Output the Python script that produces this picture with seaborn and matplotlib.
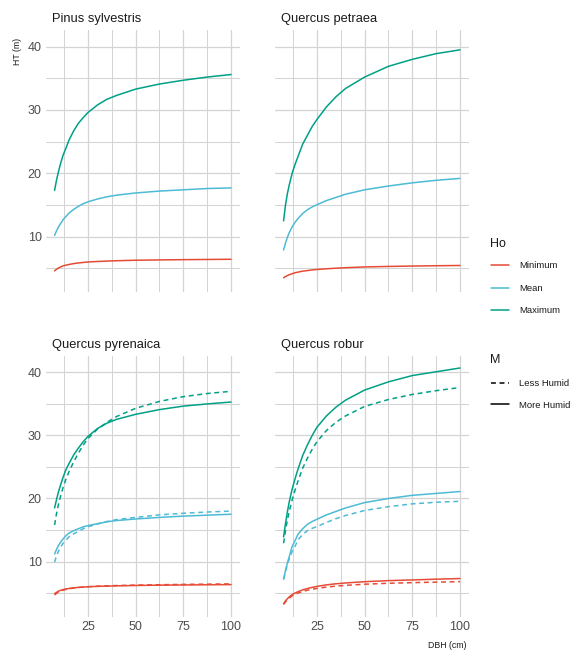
import numpy as np
import pandas as pd
import matplotlib
matplotlib.use("Agg")
import matplotlib.pyplot as plt
from matplotlib.lines import Line2D
import seaborn as sns

sns.set_theme(style="white")
plt.rcParams['font.family'] = ['Liberation Sans', 'DejaVu Sans']

# ---------------- data ----------------
species = ["Pinus sylvestris", "Quercus petraea", "Quercus pyrenaica", "Quercus robur"]
ho_levels = ["Minimum", "Mean", "Maximum"]
m_levels = ["Less Humid", "More Humid"]
dbh = [7.5, 8.5, 9.5, 10.5, 12, 13.5, 15, 17.5, 20, 22.5, 25, 30, 35, 40, 50, 62.5, 75, 87.5, 100]

# Pinus sylvestris (Less Humid coincides with More Humid)
ps_min_more = [4.6, 4.85, 5.05, 5.2, 5.4, 5.5, 5.6, 5.75, 5.85, 5.93, 6.0, 6.08, 6.15, 6.2, 6.28, 6.33, 6.37, 6.4, 6.43]
ps_mean_more = [10.2, 10.9, 11.5, 12.0, 12.7, 13.2, 13.7, 14.3, 14.8, 15.2, 15.5, 15.95, 16.3, 16.55, 16.9, 17.2, 17.4, 17.6, 17.7]
ps_max_more = [17.3, 18.9, 20.2, 21.4, 22.9, 24.0, 25.2, 26.7, 27.9, 28.8, 29.6, 30.8, 31.7, 32.3, 33.3, 34.1, 34.7, 35.2, 35.6]

# Quercus petraea
qp_min_more = [3.5, 3.7, 3.85, 4.0, 4.15, 4.3, 4.4, 4.55, 4.65, 4.75, 4.82, 4.93, 5.02, 5.1, 5.22, 5.3, 5.36, 5.41, 5.45]
qp_mean_more = [7.9, 9.0, 9.9, 10.65, 11.55, 12.25, 12.85, 13.65, 14.25, 14.7, 15.05, 15.7, 16.2, 16.7, 17.4, 18.0, 18.5, 18.9, 19.2]
qp_max_more = [12.5, 15.0, 16.8, 18.2, 20.0, 21.4, 22.6, 24.6, 26.0, 27.4, 28.5, 30.5, 32.1, 33.4, 35.2, 36.9, 38.0, 38.9, 39.5]

# Quercus pyrenaica
qy_min_more = [4.9, 5.1, 5.3, 5.42, 5.55, 5.65, 5.72, 5.82, 5.9, 5.95, 6.0, 6.06, 6.1, 6.14, 6.2, 6.25, 6.28, 6.31, 6.34]
qy_min_less = [4.7, 4.95, 5.15, 5.3, 5.47, 5.58, 5.67, 5.8, 5.88, 5.95, 6.0, 6.08, 6.14, 6.19, 6.26, 6.32, 6.37, 6.41, 6.45]
qy_mean_more = [11.2, 11.9, 12.5, 13.0, 13.6, 14.1, 14.5, 14.9, 15.2, 15.5, 15.7, 16.0, 16.3, 16.5, 16.75, 17.0, 17.2, 17.35, 17.5]
qy_mean_less = [9.9, 10.9, 11.6, 12.2, 12.9, 13.4, 13.9, 14.4, 14.8, 15.2, 15.5, 15.95, 16.35, 16.65, 17.0, 17.4, 17.65, 17.85, 18.0]
qy_max_more = [18.5, 19.8, 21.0, 22.0, 23.4, 24.6, 25.5, 26.9, 28.0, 29.0, 29.85, 31.1, 31.95, 32.55, 33.35, 34.1, 34.65, 35.0, 35.3]
qy_max_less = [15.8, 17.6, 19.0, 20.2, 21.8, 23.1, 24.2, 25.8, 27.2, 28.45, 29.5, 31.0, 32.1, 33.0, 34.3, 35.4, 36.15, 36.65, 37.0]

# Quercus robur
qr_min_more = [3.3, 3.75, 4.1, 4.4, 4.75, 5.0, 5.2, 5.5, 5.72, 5.9, 6.05, 6.3, 6.47, 6.6, 6.8, 6.97, 7.08, 7.2, 7.3]
qr_min_less = [3.2, 3.6, 3.95, 4.2, 4.55, 4.8, 4.98, 5.25, 5.45, 5.6, 5.73, 5.95, 6.1, 6.22, 6.4, 6.55, 6.65, 6.73, 6.8]
qr_mean_more = [7.2, 8.6, 9.8, 10.8, 12.4, 13.3, 14.3, 15.2, 15.9, 16.35, 16.7, 17.4, 17.95, 18.5, 19.35, 20.0, 20.5, 20.8, 21.1]
qr_mean_less = [7.2, 8.3, 9.6, 10.4, 11.6, 12.4, 13.4, 14.3, 14.9, 15.25, 15.55, 16.2, 16.8, 17.3, 18.1, 18.7, 19.15, 19.4, 19.55]
qr_max_more = [13.9, 16.0, 17.9, 19.5, 21.5, 23.1, 24.6, 26.8, 28.5, 30.0, 31.3, 33.1, 34.5, 35.6, 37.2, 38.5, 39.5, 40.1, 40.7]
qr_max_less = [12.9, 14.9, 16.6, 18.0, 19.8, 21.3, 22.7, 24.8, 26.4, 27.8, 29.0, 30.8, 32.1, 33.1, 34.6, 35.7, 36.5, 37.1, 37.6]

series = {
    ("Pinus sylvestris", "Minimum", "More Humid"): ps_min_more,
    ("Pinus sylvestris", "Mean", "More Humid"): ps_mean_more,
    ("Pinus sylvestris", "Maximum", "More Humid"): ps_max_more,
    ("Quercus petraea", "Minimum", "More Humid"): qp_min_more,
    ("Quercus petraea", "Mean", "More Humid"): qp_mean_more,
    ("Quercus petraea", "Maximum", "More Humid"): qp_max_more,
    ("Quercus pyrenaica", "Minimum", "More Humid"): qy_min_more,
    ("Quercus pyrenaica", "Minimum", "Less Humid"): qy_min_less,
    ("Quercus pyrenaica", "Mean", "More Humid"): qy_mean_more,
    ("Quercus pyrenaica", "Mean", "Less Humid"): qy_mean_less,
    ("Quercus pyrenaica", "Maximum", "More Humid"): qy_max_more,
    ("Quercus pyrenaica", "Maximum", "Less Humid"): qy_max_less,
    ("Quercus robur", "Minimum", "More Humid"): qr_min_more,
    ("Quercus robur", "Minimum", "Less Humid"): qr_min_less,
    ("Quercus robur", "Mean", "More Humid"): qr_mean_more,
    ("Quercus robur", "Mean", "Less Humid"): qr_mean_less,
    ("Quercus robur", "Maximum", "More Humid"): qr_max_more,
    ("Quercus robur", "Maximum", "Less Humid"): qr_max_less,
}

rows = []
for (sp, ho, m), vals in series.items():
    for x, y in zip(dbh, vals):
        rows.append({"Species": sp, "Ho": ho, "M": m, "DBH": x, "HT": y})
df = pd.DataFrame(rows)

x_ticks = [25, 50, 75, 100]
y_ticks = [10, 20, 30, 40]

palette = {"Minimum": "#E64B35", "Mean": "#4DBBD5", "Maximum": "#00A087"}
dash_map = {"Less Humid": (3.2, 2.4), "More Humid": ""}

# ---------------- layout ----------------
W, H = 582, 658
fig = plt.figure(figsize=(W / 100, H / 100), dpi=100)

def rect(l, t, r, b):
    return [l / W, 1 - b / H, (r - l) / W, (b - t) / H]

boxes = [
    (45.8, 30.2, 239.8, 292.4),
    (274.8, 30.2, 468.8, 292.4),
    (45.8, 356.0, 239.8, 617.0),
    (274.8, 356.0, 468.8, 617.0),
]

grid_col = "#D4D4D4"
tick_col = "#4D4D4D"
text_col = "#1A1A1A"

for i, sp in enumerate(species):
    ax = fig.add_axes(rect(*boxes[i]))
    sub = df[df["Species"] == sp]
    sns.lineplot(data=sub, x="DBH", y="HT", hue="Ho", style="M",
                 hue_order=ho_levels, style_order=m_levels,
                 palette=palette, dashes=dash_map, linewidth=1.1,
                 estimator=None, sort=True, legend=False, ax=ax)
    for ln in ax.get_lines():
        ln.set_solid_joinstyle("round")
        ln.set_dash_joinstyle("round")
    ax.set_xlim(2.9, 104.6)
    ax.set_ylim(1.2, 42.6)
    ax.set_xticks(x_ticks)
    ax.set_xticks([12.5, 37.5, 62.5, 87.5], minor=True)
    ax.set_yticks(y_ticks)
    ax.set_yticks([5, 15, 25, 35], minor=True)
    ax.grid(which="major", color=grid_col, linewidth=0.9)
    ax.grid(which="minor", color=grid_col, linewidth=0.75)
    ax.set_axisbelow(True)
    for s in ax.spines.values():
        s.set_visible(False)
    ax.tick_params(which="both", length=0, labelsize=9, colors=tick_col, pad=3)
    ax.set_xlabel("")
    ax.set_ylabel("")
    if i < 2:
        ax.set_xticklabels([])
    if i % 2 == 1:
        ax.set_yticklabels([])
    ax.text(0.03, 1.02, sp, transform=ax.transAxes, ha="left", va="bottom",
            fontsize=9.3, color=text_col)

fig.text(17 / W, 1 - 51 / H, "HT (m)", rotation=90, ha="center", va="center",
         fontsize=6.3, color=text_col)
fig.text(467 / W, 1 - 645 / H, "DBH (cm)", ha="right", va="center",
         fontsize=6.3, color=text_col)

# legends (titles as separate text for precise spacing)
fig.text(490 / W, 1 - 244 / H, "Ho", ha="left", va="center", fontsize=9, color=text_col)
fig.text(490 / W, 1 - 360 / H, "M", ha="left", va="center", fontsize=9, color=text_col)

ho_handles = [Line2D([], [], color=palette[h], lw=1.1) for h in ho_levels]
leg1 = fig.legend(ho_handles, ho_levels, loc="upper left",
                  bbox_to_anchor=(482 / W, 1 - 253 / H), frameon=False,
                  fontsize=6.8, handlelength=2.0,
                  handletextpad=1.0, labelspacing=1.42)
m_handles = [Line2D([], [], color="black", lw=1.1, dashes=(3.2, 2.4)),
             Line2D([], [], color="black", lw=1.1)]
leg2 = fig.legend(m_handles, m_levels, loc="upper left",
                  bbox_to_anchor=(482 / W, 1 - 371 / H), frameon=False,
                  fontsize=6.8, handlelength=2.0,
                  handletextpad=1.0, labelspacing=1.3)
for leg in (leg1, leg2):
    for t in leg.get_texts():
        t.set_color(text_col)

fig.savefig("out.png", dpi=100, facecolor="white")
